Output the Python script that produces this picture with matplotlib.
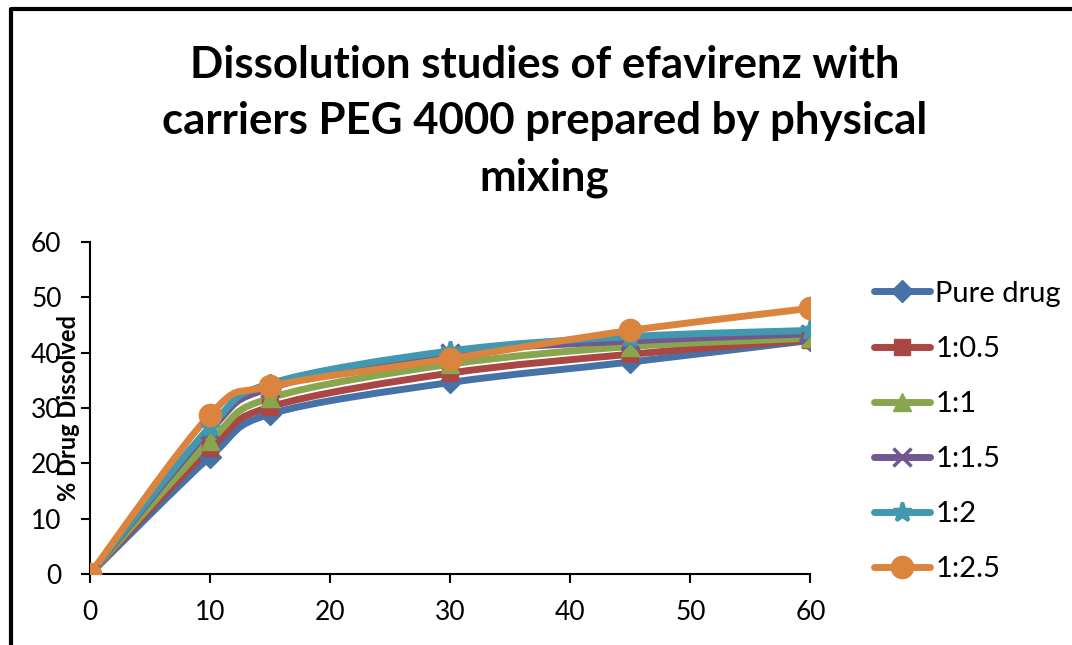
import numpy as np
import matplotlib.pyplot as plt
from matplotlib.path import Path
from matplotlib.patches import PathPatch
from matplotlib.lines import Line2D

plt.rcParams['font.family'] = ['Lato', 'DejaVu Sans']

time = [0, 10, 15, 30, 45, 60]
labels = ['Pure drug', '1:0.5', '1:1', '1:1.5', '1:2', '1:2.5']
pure = [0, 21.2, 28.9, 34.6, 38.3, 42.2]
r05 = [0, 22.7, 30.2, 36.3, 39.7, 42.3]
r1 = [0, 24.0, 31.8, 37.9, 41.1, 42.6]
r15 = [0, 26.0, 33.6, 39.9, 42.1, 43.4]
r2 = [0, 26.6, 34.4, 40.3, 42.9, 44.0]
r25 = [0, 28.8, 33.9, 38.9, 44.0, 48.0]
series = [pure, r05, r1, r15, r2, r25]

colors = ['#4572A7', '#AA4643', '#89A54E', '#71588F', '#4198AF', '#DB843D']
markers = ['D', 's', '^', 'x', '*', 'o']
msizes = [11, 12, 13, 13, 14, 16]


def smooth_path(x, y):
    # Excel-style smoothed line as cubic bezier segments
    pts = np.column_stack([x, y]).astype(float)
    n = len(pts)
    verts = [pts[0]]
    codes = [Path.MOVETO]
    for i in range(n - 1):
        p0 = pts[max(i - 1, 0)]
        p1 = pts[i]
        p2 = pts[i + 1]
        p3 = pts[min(i + 2, n - 1)]
        c1 = p1 + (p2 - p0) / 6.0
        c2 = p2 - (p3 - p1) / 6.0
        verts += [c1, c2, p2]
        codes += [Path.CURVE4] * 3
    return Path(verts, codes)


fig = plt.figure(figsize=(10.72, 6.45), dpi=100)
ax = fig.add_axes([0.084, 0.110, 0.672, 0.515])

handles = []
for vals, lab, c, m, ms in zip(series, labels, colors, markers, msizes):
    ax.add_patch(PathPatch(smooth_path(time, vals), facecolor='none',
                           edgecolor=c, lw=5, capstyle='round', zorder=2))
    ax.plot(time, vals, linestyle='none', marker=m, color=c, ms=ms,
            mew=2.5 if m in ('x', '*') else 1, zorder=3)
    handles.append(Line2D([], [], color=c, lw=5, marker=m, ms=ms,
                          mew=2.5 if m in ('x', '*') else 1,
                          solid_capstyle='round'))

ax.set_xlim(0, 60)
ax.set_ylim(0, 60)
ax.set_xticks(range(0, 61, 10))
ax.set_yticks(range(0, 61, 10))
for s in ['top', 'right']:
    ax.spines[s].set_visible(False)
for s in ['left', 'bottom']:
    ax.spines[s].set_linewidth(1.5)
ax.tick_params(axis='both', direction='out', length=6.5, width=1.5,
               labelsize=19)
ax.tick_params(axis='y', pad=14)
ax.tick_params(axis='x', pad=12)
ax.set_ylabel('% Drug Dissolved', fontsize=17, fontweight='bold', labelpad=-35)

fig.text(0.508, 0.812, 'Dissolution studies of efavirenz with\n'
         'carriers PEG 4000 prepared by physical\nmixing',
         ha='center', va='center', fontsize=31.5, fontweight='bold',
         linespacing=1.5)

fig.legend(handles, labels, loc='center left', bbox_to_anchor=(0.791, 0.331),
           frameon=False, fontsize=21, handlelength=1.9, labelspacing=1.0,
           handletextpad=0.2)

# chart border (top and left edges visible)
fig.add_artist(Line2D([0.0103, 0.0103, 1.0], [0.0, 0.9860, 0.9860],
                      transform=fig.transFigure, color='black', lw=3))

fig.savefig('out.png', dpi=100)
